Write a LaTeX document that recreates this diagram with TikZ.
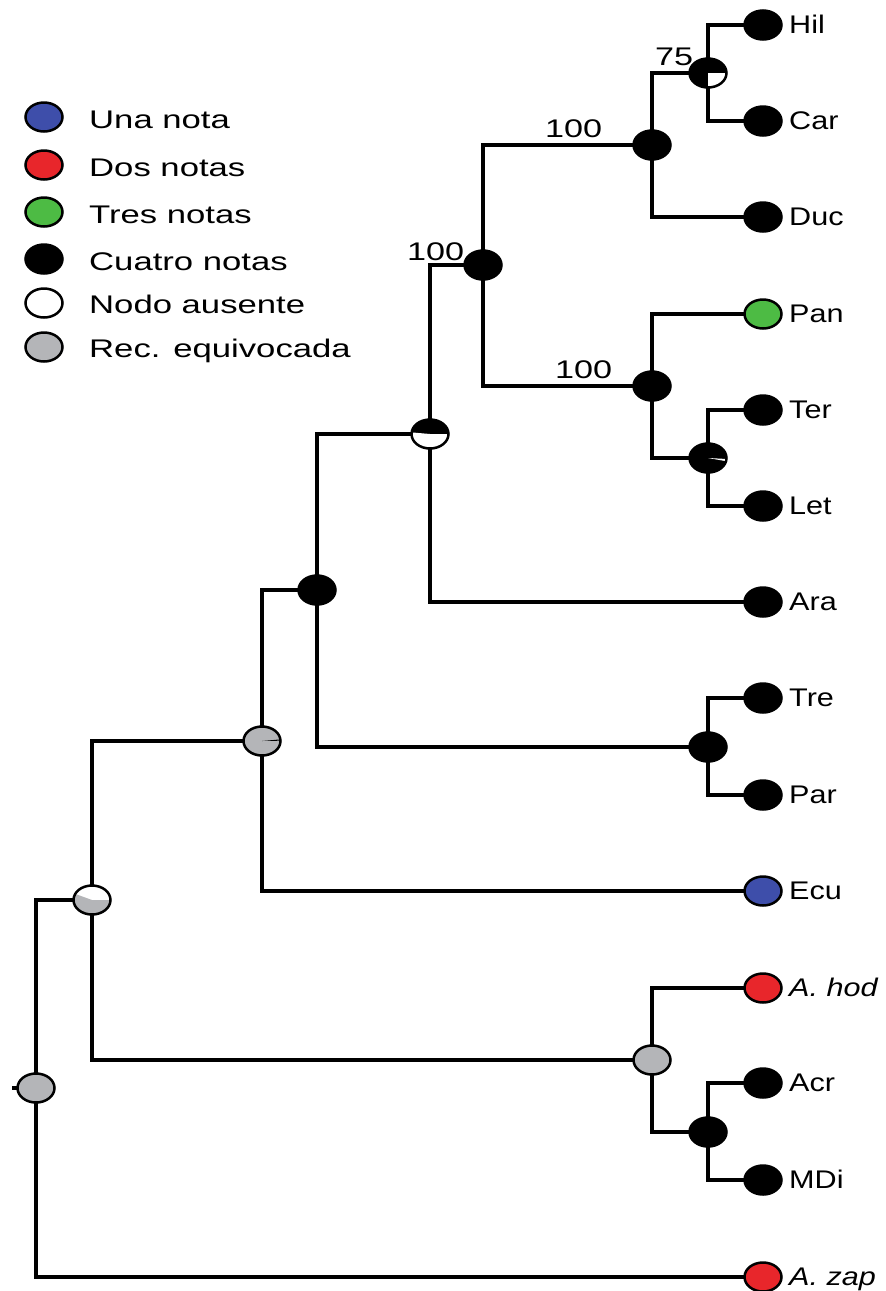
\documentclass[tikz,border=0pt]{standalone}
\usepackage{graphicx}
\usepackage{fontspec}
\setmainfont{Liberation Sans}
\usetikzlibrary{shapes.geometric,backgrounds}
\definecolor{cblue}{RGB}{62,78,170}
\definecolor{cred}{RGB}{232,38,43}
\definecolor{cgreen}{RGB}{77,187,68}
\definecolor{cgray}{RGB}{180,181,184}
\newcommand{\wtxt}[2]{\scalebox{#1}[1]{#2}}
\begin{document}
\begin{tikzpicture}[x=1pt,y=1pt,
  dot/.style={ellipse, draw=black, line width=2.5pt, minimum width=37pt, minimum height=29pt, inner sep=0pt, fill=#1},
  dot/.default=black,
  pie/.style n args={3}{path picture={\fill[#1] (path picture bounding box.center) -- +(#2:40pt) -- +({(#2+#3)/2}:40pt) -- +(#3:40pt) -- cycle;}},
  branch/.style={line width=4pt},
  lab/.style={anchor=base west, inner sep=0pt, font=\fontsize{25.5}{30}\selectfont}
]
\useasboundingbox (0,0) rectangle (886,-1291);

% legend
\node[dot=cblue]  (l1) at (44,-117) {};
\node[dot=cred]   (l2) at (44,-165) {};
\node[dot=cgreen] (l3) at (44,-212) {};
\node[dot=black]  (l4) at (44,-259) {};
\node[dot=white]  (l5) at (44,-303) {};
\node[dot=cgray]  (l6) at (44,-347) {};
\node[lab] (t1) at (89,-128) {\wtxt{1.36}{Una nota}};
\node[lab] (t2) at (89,-176) {\wtxt{1.36}{Dos notas}};
\node[lab] (t3) at (89,-223) {\wtxt{1.36}{Tres notas}};
\node[lab] (t4) at (89,-270) {\wtxt{1.36}{Cuatro notas}};
\node[lab] (t5) at (89,-313) {\wtxt{1.36}{Nodo ausente}};
\node[lab] (t6) at (89,-357) {\wtxt{1.36}{Rec. equivocada}};

% leaves
\node[dot] (Hil) at (763,-25) {};
\node[dot] (Car) at (763,-121) {};
\node[dot] (Duc) at (763,-217) {};
\node[dot=cgreen] (Pan) at (763,-314) {};
\node[dot] (Ter) at (763,-410) {};
\node[dot] (Let) at (763,-506) {};
\node[dot] (Ara) at (763,-602) {};
\node[dot] (Tre) at (763,-698) {};
\node[dot] (Par) at (763,-795) {};
\node[dot=cblue] (Ecu) at (763,-891) {};
\node[dot=cred] (Ahod) at (763,-988) {};
\node[dot] (Acr) at (763,-1083) {};
\node[dot] (MDi) at (763,-1180) {};
\node[dot=cred] (Azap) at (763,-1277) {};

\node[lab] (tHil) at (789,-33) {\wtxt{1.2}{Hil}};
\node[lab] (tCar) at (789,-129) {\wtxt{1.2}{Car}};
\node[lab] (tDuc) at (789,-225) {\wtxt{1.2}{Duc}};
\node[lab] (tPan) at (789,-322) {\wtxt{1.2}{Pan}};
\node[lab] (tTer) at (789,-418) {\wtxt{1.2}{Ter}};
\node[lab] (tLet) at (789,-514) {\wtxt{1.2}{Let}};
\node[lab] (tAra) at (789,-610) {\wtxt{1.2}{Ara}};
\node[lab] (tTre) at (789,-706) {\wtxt{1.2}{Tre}};
\node[lab] (tPar) at (789,-803) {\wtxt{1.2}{Par}};
\node[lab] (tEcu) at (789,-899) {\wtxt{1.2}{Ecu}};
\node[lab] (tAhod) at (789,-996) {\wtxt{1.2}{\itshape A. hod}};
\node[lab] (tAcr) at (789,-1091) {\wtxt{1.2}{Acr}};
\node[lab] (tMDi) at (789,-1188) {\wtxt{1.2}{MDi}};
\node[lab] (tAzap) at (789,-1285) {\wtxt{1.2}{\itshape A. zap}};

% internal nodes
\node[dot, pie={white}{-90}{0}] (nHC) at (708,-73) {};
\node[dot] (nHCD) at (652,-145) {};
\node[dot, pie={white}{-10}{-3}] (nTL) at (708,-458) {};
\node[dot] (nPTL) at (652,-386) {};
\node[dot] (nA) at (483,-265) {};
\node[dot, pie={white}{-185}{0}] (nB) at (430,-434) {};
\node[dot] (nC) at (317,-590) {};
\node[dot] (nTP) at (708,-747) {};
\node[dot=cgray, pie={black}{1}{5}] (nD) at (262,-741) {};
\node[dot=white, pie={cgray}{-200}{0}] (nE) at (92,-900) {};
\node[dot=cgray] (nF) at (652,-1060) {};
\node[dot] (nAM) at (708,-1132) {};
\node[dot=cgray] (root) at (36,-1088) {};
\coordinate (stub) at (12,-1088);

% support labels
\node[lab] (b75) at (655,-65) {\wtxt{1.34}{75}};
\node[lab] (b1) at (545,-137) {\wtxt{1.34}{100}};
\node[lab] (b2) at (407,-260) {\wtxt{1.34}{100}};
\node[lab] (b3) at (555,-378) {\wtxt{1.34}{100}};

% branches
\begin{scope}[on background layer]
\draw[branch] (stub) -- (root.center);
\draw[branch] (root.center) |- (nE.center);
\draw[branch] (root.center) |- (Azap.center);
\draw[branch] (nE.center) |- (nD.center);
\draw[branch] (nE.center) |- (nF.center);
\draw[branch] (nD.center) |- (nC.center);
\draw[branch] (nD.center) |- (Ecu.center);
\draw[branch] (nC.center) |- (nB.center);
\draw[branch] (nC.center) |- (nTP.center);
\draw[branch] (nB.center) |- (nA.center);
\draw[branch] (nB.center) |- (Ara.center);
\draw[branch] (nA.center) |- (nHCD.center);
\draw[branch] (nA.center) |- (nPTL.center);
\draw[branch] (nHCD.center) |- (nHC.center);
\draw[branch] (nHCD.center) |- (Duc.center);
\draw[branch] (nHC.center) |- (Hil.center);
\draw[branch] (nHC.center) |- (Car.center);
\draw[branch] (nPTL.center) |- (Pan.center);
\draw[branch] (nPTL.center) |- (nTL.center);
\draw[branch] (nTL.center) |- (Ter.center);
\draw[branch] (nTL.center) |- (Let.center);
\draw[branch] (nTP.center) |- (Tre.center);
\draw[branch] (nTP.center) |- (Par.center);
\draw[branch] (nF.center) |- (Ahod.center);
\draw[branch] (nF.center) |- (nAM.center);
\draw[branch] (nAM.center) |- (Acr.center);
\draw[branch] (nAM.center) |- (MDi.center);
\end{scope}
\end{tikzpicture}
\end{document}
